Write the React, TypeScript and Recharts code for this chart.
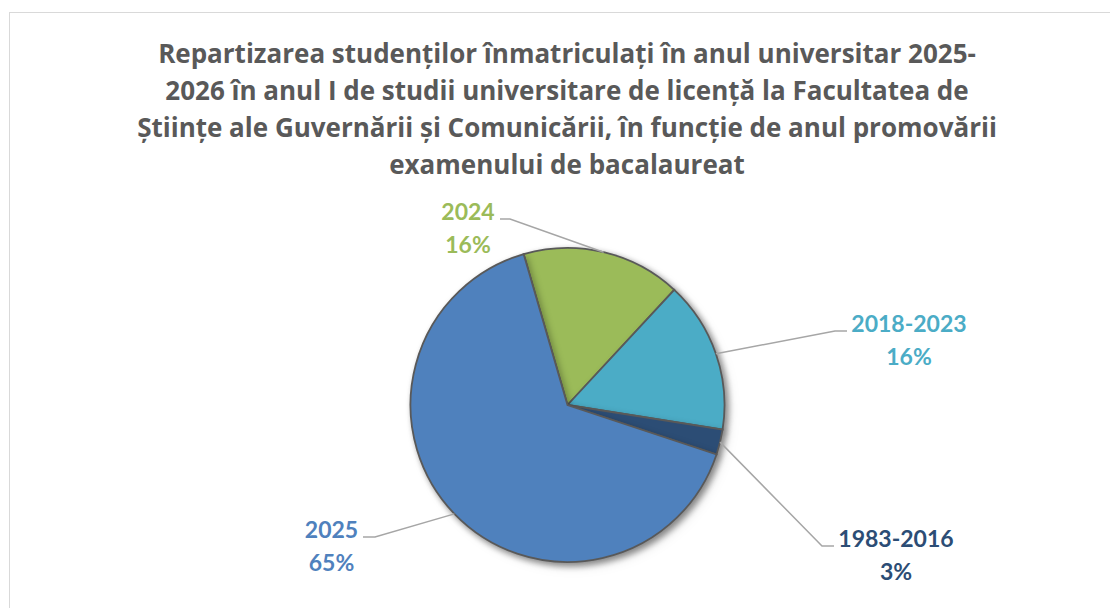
import React from "react";
import { PieChart, Pie, Cell } from "recharts";

// Data, clockwise from the 2025/2024 boundary
const categories = ["2024", "2018-2023", "1983-2016", "2025"];
const shares = [16.4, 15.6, 2.6, 65.4];
const colors = ["#9BBB59", "#4BACC6", "#2C4D75", "#4F81BD"];

const titleLines = [
  "Repartizarea studenților înmatriculați în anul universitar 2025-",
  "2026 în anul I de studii universitare de licență la Facultatea de",
  "Științe ale Guvernării și Comunicării, în funcție de anul promovării",
  "examenului de bacalaureat",
];

// Label placement relative to the pie centre (text centre x, first baseline y,
// leader elbow x and end of the short horizontal stroke)
const labelSpots = [
  { tx: -99.5, ty: -185, ex: -57.5, hx: -67.5 },
  { tx: 341.5, ty: -73, ex: 267.5, hx: 279.5 },
  { tx: 328.5, ty: 142, ex: 254.5, hx: 266.5 },
  { tx: -236, ty: 133, ex: -192.5, hx: -204.5 },
];

const data = categories.map((name, i) => ({ name, value: shares[i] }));

const FONT = "Lato, 'Open Sans', sans-serif";
const TITLE_FONT = "'Open Sans', Lato, sans-serif";
const RAD = Math.PI / 180;

const renderLabel = (props: any) => {
  const { cx, cy, midAngle, outerRadius, index, percent, name } = props;
  const spot = labelSpots[index];
  const ax = cx + outerRadius * Math.cos(-midAngle * RAD);
  const ay = cy + outerRadius * Math.sin(-midAngle * RAD);
  const ly = cy + spot.ty - 1;
  const pts = `${ax},${ay} ${cx + spot.ex},${ly} ${cx + spot.hx},${ly}`;
  return (
    <g key={`lbl-${index}`}>
      <polyline points={pts} fill="none" stroke="#A6A6A6" strokeWidth={1.5} />
      <text
        x={cx + spot.tx}
        y={cy + spot.ty}
        textAnchor="middle"
        fill={colors[index]}
        style={{ fontFamily: FONT, fontWeight: 700, fontSize: 23 }}
      >
        <tspan x={cx + spot.tx}>{name}</tspan>
        <tspan x={cx + spot.tx} dy={33}>{Math.round(percent * 100)}%</tspan>
      </text>
    </g>
  );
};

export default function App() {
  return (
    <div style={{ position: "absolute", left: 0, top: 0, width: 1110, height: 608, background: "#fff" }}>
      <style>{`.pie-main { filter: drop-shadow(3px 3px 3px rgba(0,0,0,0.28)); }`}</style>
      {/* chart area border */}
      <div style={{ position: "absolute", left: 9, top: 12, width: 1140, height: 640, border: "1.5px solid #D9D9D9" }} />
      <svg width={1110} height={200} style={{ position: "absolute", left: 0, top: 0 }}>
        {titleLines.map((t, i) => (
          <text
            key={i}
            x={567}
            y={63 + i * 37}
            textAnchor="middle"
            fill="#595959"
            style={{ fontFamily: TITLE_FONT, fontWeight: 700, fontSize: 26 }}
          >
            {t}
          </text>
        ))}
      </svg>
      <div style={{ position: "absolute", left: 0, top: 0 }}>
        <PieChart width={1110} height={608} margin={{ top: 0, right: 0, bottom: 0, left: 0 }}>
          <Pie
            className="pie-main"
            data={data}
            dataKey="value"
            nameKey="name"
            cx={567.5}
            cy={405}
            outerRadius={157}
            startAngle={106.2}
            endAngle={-253.8}
            stroke="#595959"
            strokeWidth={1.8}
            isAnimationActive={false}
          >
            {data.map((d, i) => (
              <Cell key={d.name} fill={colors[i]} />
            ))}
          </Pie>
          <Pie
            data={data}
            dataKey="value"
            nameKey="name"
            cx={567.5}
            cy={405}
            outerRadius={157}
            startAngle={106.2}
            endAngle={-253.8}
            fill="none"
            stroke="none"
            label={renderLabel}
            labelLine={false}
            isAnimationActive={false}
          />
        </PieChart>
      </div>
    </div>
  );
}
